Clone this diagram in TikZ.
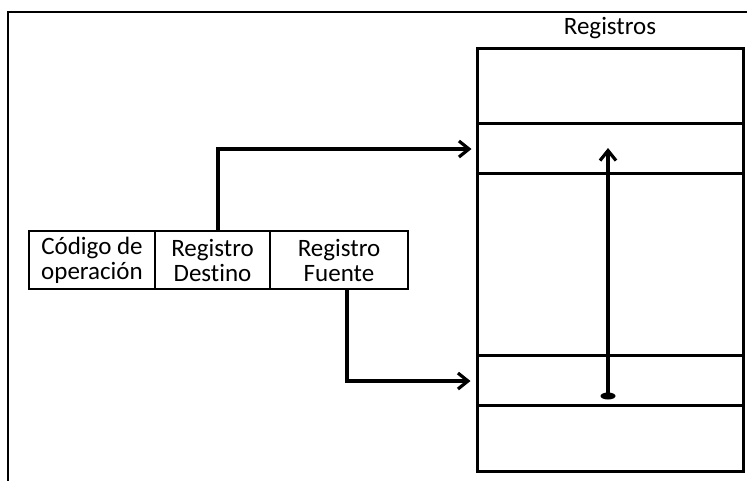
\documentclass[tikz,border=0pt]{standalone}
\usepackage{fontspec}
\setmainfont{Carlito}[Ligatures={NoCommon}]
\usetikzlibrary{arrows.meta}
\begin{document}
\begin{tikzpicture}[x=1pt,y=-1pt,
  every node/.style={font=\fontsize{25}{25}\selectfont, inner sep=0pt},
  cell/.style={draw, line width=3pt, minimum width=266pt, anchor=center},
  field/.style={draw, line width=2.8pt, minimum height=58pt, align=center, anchor=center},
  conn/.style={line width=3.2pt, -{Straight Barb[length=10pt,width=16pt,line width=3.2pt]}}]
\useasboundingbox (0,0) rectangle (747,480);
\begin{scope}
  \clip (0,0) rectangle (747,480);
  \draw[line width=2.2pt] (8,12) rectangle (770,500);
\end{scope}

% register file
\node[cell, minimum height=75pt]  (r1) at (610,85.5) {};
\node[cell, minimum height=50pt]  (r2) at (610,148) {};
\node[cell, minimum height=182pt] (r3) at (610,264) {};
\node[cell, minimum height=50pt]  (r4) at (610,380) {};
\node[cell, minimum height=66pt]  (r5) at (610,438) {};
\node (title) at (610,28) {Registros};

% instruction format
\node[field, minimum width=126pt] (f1) at (92,260) {Código de\\operación};
\node[field, minimum width=115pt] (f2) at (212.5,260) {Registro\\Destino};
\node[field, minimum width=138pt] (f3) at (339,260) {Registro\\Fuente};

% operand selection
\draw[conn, shorten >=4pt] ([xshift=5.5pt]f2.north) |- ([yshift=-1pt]r2.west);
\draw[conn, shorten >=5pt] ([xshift=8pt]f3.south) |- ([yshift=-1pt]r4.west);

% data transfer between registers
\coordinate (src) at ([xshift=-2pt,yshift=-16pt]r4.center);
\fill (src) ellipse [x radius=7.5pt, y radius=3.5pt];
\draw[conn] (src) -- (src |- r2.center);
\end{tikzpicture}
\end{document}
